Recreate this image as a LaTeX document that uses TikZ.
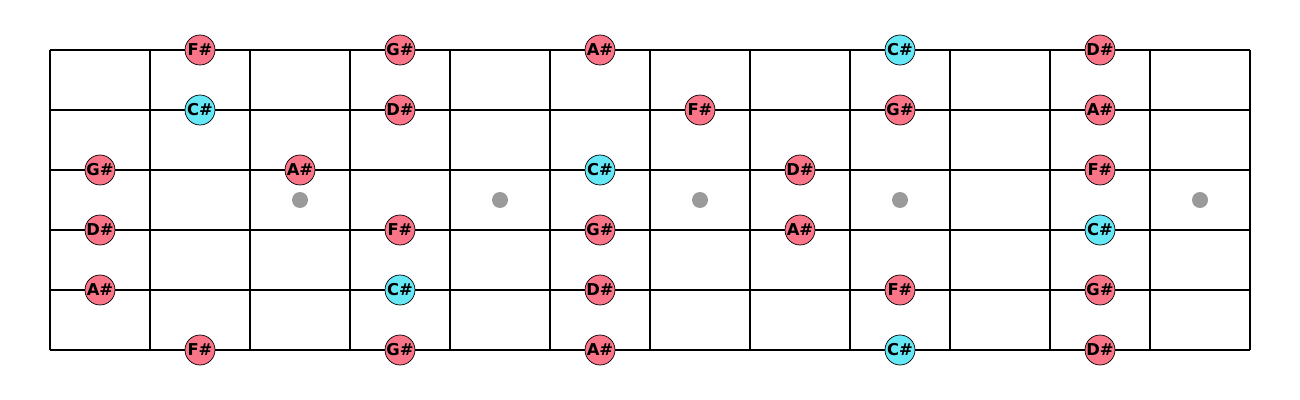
\documentclass[tikz,border=0pt]{standalone}
\usepackage{fontspec}
\setmainfont{DejaVu Sans}
\definecolor{notecol}{HTML}{FA7588}
\definecolor{rootcol}{HTML}{66E8F7}
\definecolor{dotcol}{HTML}{9A9A9A}
\definecolor{wirecol}{HTML}{000000}

\tikzset{
  wire/.style={wirecol, line width=1.1pt},
  note/.style={circle, draw=black, line width=0.4pt, fill=notecol,
    minimum size=0.6cm, inner sep=0pt,
    font=\bfseries\fontsize{9.3}{9.3}\selectfont},
  root/.style={note, fill=rootcol},
  inlay/.style={circle, fill=dotcol, minimum size=0.32cm, inner sep=0pt},
}

\begin{document}
\begin{tikzpicture}[x=2cm, y=-2cm]
\useasboundingbox (0,0) rectangle (13,4);

% === Board: strings and frets ===
\foreach \y in {0.5,1.1,1.7,2.3,2.9,3.5}
  \draw[wire] (0.5,\y) -- (12.5,\y);
\foreach \x in {0.5,1.5,...,12.5}
  \draw[wire] (\x,0.5) -- (\x,3.5);

% === Inlay dots ===
\foreach \x in {3,5,7,9,12}
  \node[inlay] (dot\x) at (\x,2.0) {};

% === Notes, string by string ===
\foreach \f/\n/\s in {2/F/note,4/G/note,6/A/note,9/C/root,11/D/note}
  \node[\s] (a\f) at (\f,0.5) {\n\#};
\foreach \f/\n/\s in {2/C/root,4/D/note,7/F/note,9/G/note,11/A/note}
  \node[\s] (b\f) at (\f,1.1) {\n\#};
\foreach \f/\n/\s in {1/G/note,3/A/note,6/C/root,8/D/note,11/F/note}
  \node[\s] (c\f) at (\f,1.7) {\n\#};
\foreach \f/\n/\s in {1/D/note,4/F/note,6/G/note,8/A/note,11/C/root}
  \node[\s] (d\f) at (\f,2.3) {\n\#};
\foreach \f/\n/\s in {1/A/note,4/C/root,6/D/note,9/F/note,11/G/note}
  \node[\s] (e\f) at (\f,2.9) {\n\#};
\foreach \f/\n/\s in {2/F/note,4/G/note,6/A/note,9/C/root,11/D/note}
  \node[\s] (g\f) at (\f,3.5) {\n\#};

\end{tikzpicture}
\end{document}
